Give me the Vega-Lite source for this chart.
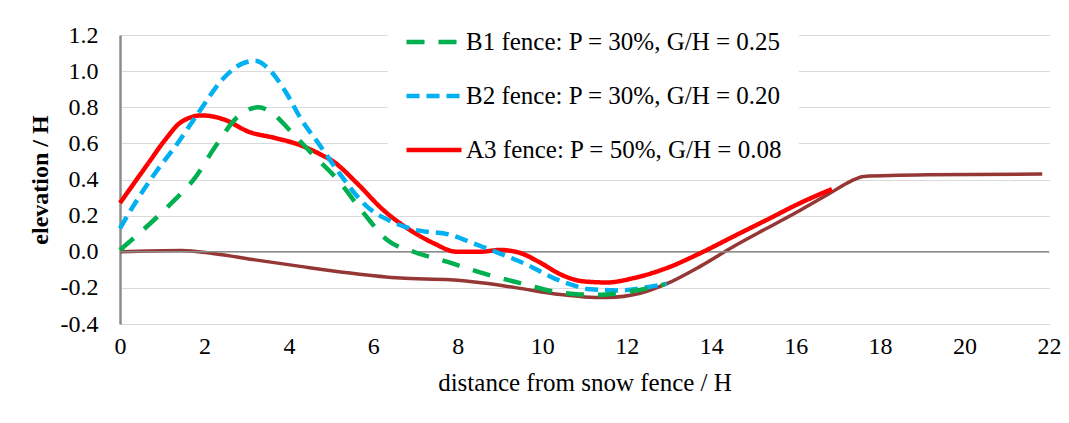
{
  "$schema": "https://vega.github.io/schema/vega-lite/v6.json",
  "width": 929,
  "height": 289,
  "autosize": "none",
  "padding": {"left": 120, "top": 35, "right": 20, "bottom": 99},
  "background": "white",
  "config": {
    "view": {"stroke": null},
    "font": "Liberation Serif",
    "axis": {"labelFont": "Liberation Serif", "titleFont": "Liberation Serif"},
    "legend": {"labelFont": "Liberation Serif"},
    "axisX": {
      "grid": false, "domain": false, "ticks": false, "labelOverlap": false, "labelFlush": false, "labelBound": false,
      "labelFont": "Liberation Serif", "labelFontSize": 24, "labelColor": "#000", "labelPadding": 10,
      "titleFont": "Liberation Serif", "titleFontSize": 25, "titleFontWeight": "normal", "titleColor": "#000", "titlePadding": 12
    },
    "axisY": {
      "grid": true, "gridColor": "#b5b5b5", "gridDash": [1, 1], "gridWidth": 1, "labelOverlap": false, "labelFlush": false, "labelBound": false,
      "domain": true, "domainColor": "#8c8c8c", "domainWidth": 2.5, "ticks": false,
      "labelFont": "Liberation Serif", "labelFontSize": 24, "labelColor": "#000", "labelPadding": 22,
      "titleFont": "Liberation Serif", "titleFontSize": 24, "titleFontWeight": "bold", "titleColor": "#000", "titlePadding": 8
    }
  },
  "datasets": {
    "zero": [{"v": 0}],
    "ground": [
      {"x": 0, "y": 0}, {"x": 1.46, "y": 0.007}, {"x": 2.2, "y": -0.01}, {"x": 3.2, "y": -0.045},
      {"x": 4.27, "y": -0.081}, {"x": 5.45, "y": -0.118}, {"x": 6.64, "y": -0.146}, {"x": 7.82, "y": -0.155},
      {"x": 8.61, "y": -0.173}, {"x": 9.4, "y": -0.2}, {"x": 10.43, "y": -0.237}, {"x": 11.0, "y": -0.25},
      {"x": 11.53, "y": -0.253}, {"x": 12.32, "y": -0.23}, {"x": 12.95, "y": -0.177}, {"x": 13.74, "y": -0.081},
      {"x": 14.53, "y": 0.029}, {"x": 15.32, "y": 0.13}, {"x": 16.11, "y": 0.23}, {"x": 16.82, "y": 0.325},
      {"x": 17.3, "y": 0.39}, {"x": 17.61, "y": 0.417}, {"x": 19.12, "y": 0.426}, {"x": 21.84, "y": 0.43}
    ],
    "fences": [
      {"s": "A3 fence: P = 50%, G/H = 0.08", "x": 0, "y": 0.27},
      {"s": "A3 fence: P = 50%, G/H = 0.08", "x": 0.67, "y": 0.49},
      {"s": "A3 fence: P = 50%, G/H = 0.08", "x": 1.07, "y": 0.62},
      {"s": "A3 fence: P = 50%, G/H = 0.08", "x": 1.46, "y": 0.72},
      {"s": "A3 fence: P = 50%, G/H = 0.08", "x": 1.94, "y": 0.755},
      {"s": "A3 fence: P = 50%, G/H = 0.08", "x": 2.49, "y": 0.73},
      {"s": "A3 fence: P = 50%, G/H = 0.08", "x": 3.04, "y": 0.665},
      {"s": "A3 fence: P = 50%, G/H = 0.08", "x": 3.67, "y": 0.63},
      {"s": "A3 fence: P = 50%, G/H = 0.08", "x": 4.27, "y": 0.59},
      {"s": "A3 fence: P = 50%, G/H = 0.08", "x": 4.78, "y": 0.535},
      {"s": "A3 fence: P = 50%, G/H = 0.08", "x": 5.05, "y": 0.5},
      {"s": "A3 fence: P = 50%, G/H = 0.08", "x": 5.61, "y": 0.38},
      {"s": "A3 fence: P = 50%, G/H = 0.08", "x": 6.24, "y": 0.23},
      {"s": "A3 fence: P = 50%, G/H = 0.08", "x": 6.87, "y": 0.12},
      {"s": "A3 fence: P = 50%, G/H = 0.08", "x": 7.42, "y": 0.048},
      {"s": "A3 fence: P = 50%, G/H = 0.08", "x": 7.98, "y": 0.0},
      {"s": "A3 fence: P = 50%, G/H = 0.08", "x": 8.53, "y": 0.0},
      {"s": "A3 fence: P = 50%, G/H = 0.08", "x": 9.0, "y": 0.01},
      {"s": "A3 fence: P = 50%, G/H = 0.08", "x": 9.48, "y": -0.007},
      {"s": "A3 fence: P = 50%, G/H = 0.08", "x": 9.95, "y": -0.06},
      {"s": "A3 fence: P = 50%, G/H = 0.08", "x": 10.43, "y": -0.125},
      {"s": "A3 fence: P = 50%, G/H = 0.08", "x": 10.98, "y": -0.164},
      {"s": "A3 fence: P = 50%, G/H = 0.08", "x": 11.53, "y": -0.17},
      {"s": "A3 fence: P = 50%, G/H = 0.08", "x": 12.16, "y": -0.146},
      {"s": "A3 fence: P = 50%, G/H = 0.08", "x": 12.95, "y": -0.09},
      {"s": "A3 fence: P = 50%, G/H = 0.08", "x": 13.74, "y": -0.008},
      {"s": "A3 fence: P = 50%, G/H = 0.08", "x": 14.53, "y": 0.085},
      {"s": "A3 fence: P = 50%, G/H = 0.08", "x": 15.32, "y": 0.177},
      {"s": "A3 fence: P = 50%, G/H = 0.08", "x": 16.11, "y": 0.27},
      {"s": "A3 fence: P = 50%, G/H = 0.08", "x": 16.86, "y": 0.347},
      {"s": "B2 fence: P = 30%, G/H = 0.20", "x": 0, "y": 0.13},
      {"s": "B2 fence: P = 30%, G/H = 0.20", "x": 0.36, "y": 0.27},
      {"s": "B2 fence: P = 30%, G/H = 0.20", "x": 0.83, "y": 0.435},
      {"s": "B2 fence: P = 30%, G/H = 0.20", "x": 1.3, "y": 0.58},
      {"s": "B2 fence: P = 30%, G/H = 0.20", "x": 1.86, "y": 0.77},
      {"s": "B2 fence: P = 30%, G/H = 0.20", "x": 2.41, "y": 0.95},
      {"s": "B2 fence: P = 30%, G/H = 0.20", "x": 2.88, "y": 1.04},
      {"s": "B2 fence: P = 30%, G/H = 0.20", "x": 3.2, "y": 1.057},
      {"s": "B2 fence: P = 30%, G/H = 0.20", "x": 3.51, "y": 1.015},
      {"s": "B2 fence: P = 30%, G/H = 0.20", "x": 3.91, "y": 0.89},
      {"s": "B2 fence: P = 30%, G/H = 0.20", "x": 4.3, "y": 0.73},
      {"s": "B2 fence: P = 30%, G/H = 0.20", "x": 4.7, "y": 0.6},
      {"s": "B2 fence: P = 30%, G/H = 0.20", "x": 5.21, "y": 0.43},
      {"s": "B2 fence: P = 30%, G/H = 0.20", "x": 5.85, "y": 0.25},
      {"s": "B2 fence: P = 30%, G/H = 0.20", "x": 6.4, "y": 0.17},
      {"s": "B2 fence: P = 30%, G/H = 0.20", "x": 7.03, "y": 0.12},
      {"s": "B2 fence: P = 30%, G/H = 0.20", "x": 7.82, "y": 0.094},
      {"s": "B2 fence: P = 30%, G/H = 0.20", "x": 8.45, "y": 0.039},
      {"s": "B2 fence: P = 30%, G/H = 0.20", "x": 9.0, "y": -0.01},
      {"s": "B2 fence: P = 30%, G/H = 0.20", "x": 9.64, "y": -0.072},
      {"s": "B2 fence: P = 30%, G/H = 0.20", "x": 10.27, "y": -0.146},
      {"s": "B2 fence: P = 30%, G/H = 0.20", "x": 10.6, "y": -0.175},
      {"s": "B2 fence: P = 30%, G/H = 0.20", "x": 11.14, "y": -0.208},
      {"s": "B2 fence: P = 30%, G/H = 0.20", "x": 11.85, "y": -0.214},
      {"s": "B2 fence: P = 30%, G/H = 0.20", "x": 12.48, "y": -0.196},
      {"s": "B2 fence: P = 30%, G/H = 0.20", "x": 12.95, "y": -0.177},
      {"s": "B1 fence: P = 30%, G/H = 0.25", "x": 0, "y": 0.01},
      {"s": "B1 fence: P = 30%, G/H = 0.25", "x": 0.59, "y": 0.13},
      {"s": "B1 fence: P = 30%, G/H = 0.25", "x": 1.22, "y": 0.27},
      {"s": "B1 fence: P = 30%, G/H = 0.25", "x": 1.78, "y": 0.41},
      {"s": "B1 fence: P = 30%, G/H = 0.25", "x": 2.25, "y": 0.58},
      {"s": "B1 fence: P = 30%, G/H = 0.25", "x": 2.8, "y": 0.75},
      {"s": "B1 fence: P = 30%, G/H = 0.25", "x": 3.28, "y": 0.8},
      {"s": "B1 fence: P = 30%, G/H = 0.25", "x": 3.59, "y": 0.77},
      {"s": "B1 fence: P = 30%, G/H = 0.25", "x": 4.07, "y": 0.66},
      {"s": "B1 fence: P = 30%, G/H = 0.25", "x": 4.6, "y": 0.53},
      {"s": "B1 fence: P = 30%, G/H = 0.25", "x": 5.15, "y": 0.4},
      {"s": "B1 fence: P = 30%, G/H = 0.25", "x": 5.77, "y": 0.214},
      {"s": "B1 fence: P = 30%, G/H = 0.25", "x": 6.32, "y": 0.066},
      {"s": "B1 fence: P = 30%, G/H = 0.25", "x": 6.95, "y": 0.0},
      {"s": "B1 fence: P = 30%, G/H = 0.25", "x": 7.74, "y": -0.055},
      {"s": "B1 fence: P = 30%, G/H = 0.25", "x": 8.61, "y": -0.12},
      {"s": "B1 fence: P = 30%, G/H = 0.25", "x": 9.48, "y": -0.174},
      {"s": "B1 fence: P = 30%, G/H = 0.25", "x": 10.27, "y": -0.22},
      {"s": "B1 fence: P = 30%, G/H = 0.25", "x": 10.8, "y": -0.235},
      {"s": "B1 fence: P = 30%, G/H = 0.25", "x": 11.3, "y": -0.238},
      {"s": "B1 fence: P = 30%, G/H = 0.25", "x": 11.93, "y": -0.225},
      {"s": "B1 fence: P = 30%, G/H = 0.25", "x": 12.64, "y": -0.195},
      {"s": "B1 fence: P = 30%, G/H = 0.25", "x": 12.9, "y": -0.18}
    ]
  },
  "layer": [
    {
      "data": {"name": "ground"},
      "mark": {"type": "line", "interpolate": "monotone", "color": "#953735", "strokeWidth": 3.5},
      "encoding": {
        "x": {"field": "x", "type": "quantitative", "scale": {"domain": [0, 22], "nice": false},
              "axis": {"title": "distance from snow fence / H", "values": [0, 2, 4, 6, 8, 10, 12, 14, 16, 18, 20, 22],
                       "labelFont": "Liberation Serif", "labelFontSize": 24, "titleFont": "Liberation Serif", "titleFontSize": 25,
                       "labelOverlap": false, "labelFlush": false}},
        "y": {"field": "y", "type": "quantitative", "scale": {"domain": [-0.4, 1.2], "nice": false, "zero": false},
              "axis": {"title": "elevation / H", "values": [-0.4, -0.2, 0, 0.2, 0.4, 0.6, 0.8, 1.0, 1.2], "tickCount": 9,
                       "labelFont": "Liberation Serif", "labelFontSize": 24, "titleFont": "Liberation Serif", "titleFontSize": 24,
                       "labelOverlap": false,
                       "labelExpr": "replace(format(datum.value, '.1f'), '\u2212', '-')"}}
      }
    },
    {
      "data": {"name": "zero"},
      "mark": {"type": "rule", "color": "#8c8c8c", "strokeWidth": 1.5},
      "encoding": {
        "y": {"field": "v", "type": "quantitative"}
      }
    },
    {
      "data": {"name": "fences"},
      "mark": {"type": "line", "interpolate": "monotone"},
      "encoding": {
        "x": {"field": "x", "type": "quantitative"},
        "y": {"field": "y", "type": "quantitative"},
        "color": {
          "field": "s", "type": "nominal",
          "scale": {"domain": ["B1 fence: P = 30%, G/H = 0.25", "B2 fence: P = 30%, G/H = 0.20", "A3 fence: P = 50%, G/H = 0.08"],
                    "range": ["#00B050", "#00B0F0", "#FF0000"]},
          "legend": {"title": null, "orient": "none", "legendX": 268, "legendY": -39, "symbolType": "stroke",
                     "symbolSize": 3025, "symbolStrokeWidth": 4.5, "labelFont": "Liberation Serif", "labelFontSize": 25,
                     "labelColor": "#000", "labelLimit": 600, "labelOffset": 2, "rowPadding": 11, "padding": 16, "fillColor": "white"}
        },
        "strokeDash": {
          "field": "s", "type": "nominal",
          "scale": {"domain": ["B1 fence: P = 30%, G/H = 0.25", "B2 fence: P = 30%, G/H = 0.20", "A3 fence: P = 50%, G/H = 0.08"],
                    "range": [[18, 14], [13, 7], [1, 0]]},
          "legend": {"title": null, "orient": "none", "legendX": 268, "legendY": -39, "symbolType": "stroke",
                     "symbolSize": 3025, "symbolStrokeWidth": 4.5, "labelFont": "Liberation Serif", "labelFontSize": 25,
                     "labelColor": "#000", "labelLimit": 600, "labelOffset": 2, "rowPadding": 11, "padding": 16, "fillColor": "white"}
        },
        "strokeWidth": {
          "field": "s", "type": "nominal",
          "scale": {"domain": ["B1 fence: P = 30%, G/H = 0.25", "B2 fence: P = 30%, G/H = 0.20", "A3 fence: P = 50%, G/H = 0.08"],
                    "range": [4.5, 4.5, 3.5]},
          "legend": null
        }
      }
    }
  ]
}
